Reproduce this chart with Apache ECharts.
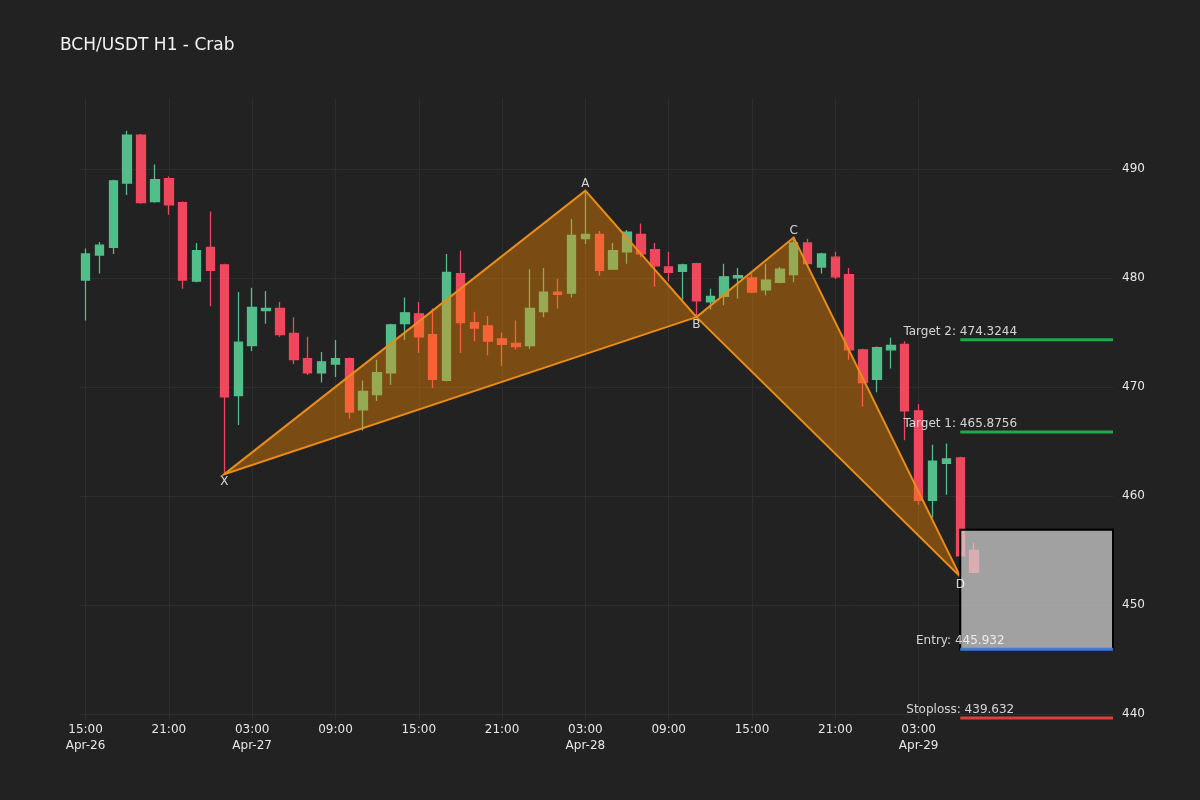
<!DOCTYPE html>
<html>
<head>
<meta charset="utf-8">
<title>BCH/USDT H1 - Crab</title>
<script src="https://cdn.jsdelivr.net/npm/echarts@6/dist/echarts.min.js"></script>
<style>
  html, body { margin: 0; padding: 0; background: #222222; }
  #chart { width: 1200px; height: 800px; }
</style>
</head>
<body>
<div id="chart"></div>
<script>
// hourly candles, first one at Apr-26 15:00
const startDay = 26
const startHour = 15
const opens = [479.8, 482.1, 482.8, 488.7, 493.1, 487.0, 489.1, 486.9, 479.7, 482.8, 481.2, 469.2, 473.8, 477.0, 477.2, 474.9,
  472.6, 471.3, 472.1, 472.6, 467.9, 469.3, 471.3, 475.8, 476.7, 474.8, 470.6, 480.4, 475.9, 475.6, 474.4, 474.0,
  473.8, 476.9, 478.7, 478.6, 483.6, 484.0, 480.8, 482.4, 484.0, 482.6, 481.0, 480.6, 481.3, 477.8, 478.3, 480.0,
  480.0, 478.9, 479.6, 480.3, 483.2, 481.0, 481.9, 480.3, 473.4, 470.7, 473.4, 473.9, 467.8, 459.6, 463.0, 463.5, 455.0]
const closes = [482.2, 483.0, 488.9, 493.1, 486.9, 489.0, 486.7, 479.8, 482.5, 480.7, 469.1, 474.1, 477.3, 477.2, 474.8, 472.5,
  471.3, 472.3, 472.6, 467.7, 469.6, 471.3, 475.7, 476.8, 474.6, 470.7, 480.5, 475.9, 475.4, 474.2, 473.9, 473.7,
  477.2, 478.7, 478.5, 483.9, 484.0, 480.7, 482.5, 484.2, 482.2, 481.1, 480.5, 481.2, 477.9, 478.3, 480.1, 480.2,
  478.7, 479.8, 480.8, 483.2, 481.3, 482.2, 480.1, 473.4, 470.4, 473.6, 473.8, 467.8, 459.6, 463.2, 463.4, 454.5, 453.0]
const lows = [476.1, 480.4, 482.2, 487.6, 486.8, 486.9, 485.8, 479.0, 479.6, 477.4, 462.0, 466.5, 473.3, 475.8, 474.6, 472.1,
  471.1, 470.4, 470.9, 467.1, 466.0, 468.7, 470.2, 474.3, 473.1, 469.9, 470.5, 473.1, 474.2, 472.9, 471.9, 473.4,
  473.5, 476.4, 477.2, 478.2, 483.1, 480.2, 480.8, 481.3, 481.9, 479.2, 479.7, 478.0, 476.4, 477.1, 477.5, 478.1,
  478.6, 478.4, 479.5, 479.6, 481.2, 480.4, 479.9, 472.5, 468.2, 469.5, 471.7, 465.1, 459.2, 458.0, 460.1, 452.6, 453.0]
const highs = [482.7, 483.3, 489.0, 493.5, 493.2, 490.4, 489.3, 487.0, 483.2, 486.1, 481.3, 478.7, 479.1, 478.8, 477.8, 476.4,
  474.6, 473.2, 474.3, 472.7, 470.6, 472.5, 475.8, 478.2, 477.8, 477.2, 482.2, 482.5, 476.9, 476.5, 475.0, 476.1,
  480.8, 480.9, 479.9, 485.4, 488.0, 484.3, 483.2, 484.4, 485.0, 483.2, 482.4, 481.3, 481.4, 479.0, 481.3, 480.9,
  480.4, 481.3, 481.0, 483.7, 483.6, 482.3, 482.4, 480.9, 473.5, 473.7, 474.5, 474.2, 468.4, 464.7, 464.8, 463.6, 455.7]

// harmonic pattern points (hour offset, price)
const patternNames = ['X', 'A', 'B', 'C', 'D']
const patternHours = [10, 36, 44, 51, 63]
const patternValues = [462.0, 488.0, 476.4, 483.7, 452.6]

// trade levels
const levelNames = ['Target 2', 'Target 1', 'Entry', 'Stoploss']
const levelValues = [474.3244, 465.8756, 445.932, 439.632]
const levelStart = 63
const levelEnd = 74
const zoneTop = 456.9

const xTicks = [0, 6, 12, 18, 24, 30, 36, 42, 48, 54, 60]
const yTicks = [440, 450, 460, 470, 480, 490]

const levelColors = ['#22a846', '#22a846', '#3d7bd6', '#e23c3f']
const upColor = '#52be8a'
const downColor = '#ef485d'
const font = 'DejaVu Sans'

const candles = opens.map((o, i) => [i, o, closes[i], lows[i], highs[i]])

function hourLabel (h) {
  const total = startHour + h
  const hh = total % 24
  const day = startDay + Math.floor(total / 24)
  let s = (hh < 10 ? '0' : '') + hh + ':00'
  if (h === 0 || hh === 3) s += '\nApr-' + day
  return s
}

const chart = echarts.init(document.getElementById('chart'))

const levelSeries = levelValues.map((v, k) => ({
  type: 'line',
  data: [[levelStart, v], [levelEnd, v]],
  symbol: 'none',
  lineStyle: { color: levelColors[k], width: 3 },
  z: 6,
  silent: true
}))

chart.setOption({
  backgroundColor: '#222222',
  animation: false,
  title: {
    text: 'BCH/USDT H1 - Crab',
    left: 60,
    top: 37,
    padding: 0,
    textStyle: { color: '#f2f2f2', fontSize: 17, fontWeight: 'normal', fontFamily: font }
  },
  grid: { left: 80, right: 87, top: 98, bottom: 80, outerBoundsMode: 'none' },
  xAxis: {
    type: 'value',
    min: -0.4,
    max: 74,
    axisLine: { show: false },
    axisTick: { show: false, customValues: xTicks },
    splitLine: { show: true, lineStyle: { color: '#2d2d2d', width: 1 } },
    axisLabel: {
      customValues: xTicks,
      color: '#e6e6e6',
      fontSize: 12,
      fontFamily: font,
      lineHeight: 16,
      margin: 2,
      formatter: hourLabel
    }
  },
  yAxis: {
    type: 'value',
    position: 'right',
    min: 439.45,
    max: 496.5,
    axisLine: { show: false },
    axisTick: { show: false, customValues: yTicks },
    splitLine: { show: true, lineStyle: { color: '#2d2d2d', width: 1 } },
    axisLabel: {
      customValues: yTicks,
      color: '#e6e6e6',
      fontSize: 12,
      fontFamily: font,
      margin: 9
    }
  },
  series: [
    {
      type: 'candlestick',
      data: candles,
      encode: { x: 0, y: [1, 2, 3, 4] },
      barWidth: 9,
      itemStyle: {
        color: upColor,
        color0: downColor,
        borderColor: upColor,
        borderColor0: downColor,
        borderWidth: 1.3
      },
      z: 2
    },
    // XAB and BCD triangles
    {
      type: 'custom',
      data: [[0], [2]],
      z: 4,
      silent: true,
      renderItem: function (params, api) {
        const k = api.value(0)
        const pts = [k, k + 1, k + 2].map(j => api.coord([patternHours[j], patternValues[j]]))
        return {
          type: 'polygon',
          shape: { points: pts },
          style: { fill: 'rgba(255,140,0,0.4)', stroke: '#e88c1c', lineWidth: 2 }
        }
      }
    },
    // entry zone box
    {
      type: 'custom',
      data: [[levelStart, zoneTop, levelEnd, levelValues[2]]],
      z: 5,
      silent: true,
      renderItem: function (params, api) {
        const p1 = api.coord([api.value(0), api.value(1)])
        const p2 = api.coord([api.value(2), api.value(3)])
        return {
          type: 'rect',
          shape: { x: p1[0], y: p1[1], width: p2[0] - p1[0], height: p2[1] - p1[1] },
          style: { fill: 'rgba(211,211,211,0.72)', stroke: '#000000', lineWidth: 2 }
        }
      }
    },
    ...levelSeries,
    // level annotations
    {
      type: 'scatter',
      symbolSize: 0,
      z: 8,
      silent: true,
      data: levelValues.map((v, k) => ({ value: [levelStart, v], name: levelNames[k] + ': ' + v })),
      label: {
        show: true,
        position: 'top',
        distance: 2,
        color: '#ffffff',
        fontSize: 12,
        fontFamily: font,
        formatter: p => p.name
      }
    },
    // pattern point labels
    {
      type: 'scatter',
      symbolSize: 0,
      z: 8,
      silent: true,
      data: patternNames.map((n, k) => ({
        value: [patternHours[k], patternValues[k]],
        name: n,
        label: { position: k % 2 === 1 ? 'top' : 'bottom', distance: k % 2 === 1 ? 1 : 2 }
      })),
      label: {
        show: true,
        color: '#ffffff',
        fontSize: 12,
        fontFamily: font,
        formatter: p => p.name
      }
    }
  ]
})
</script>
</body>
</html>
